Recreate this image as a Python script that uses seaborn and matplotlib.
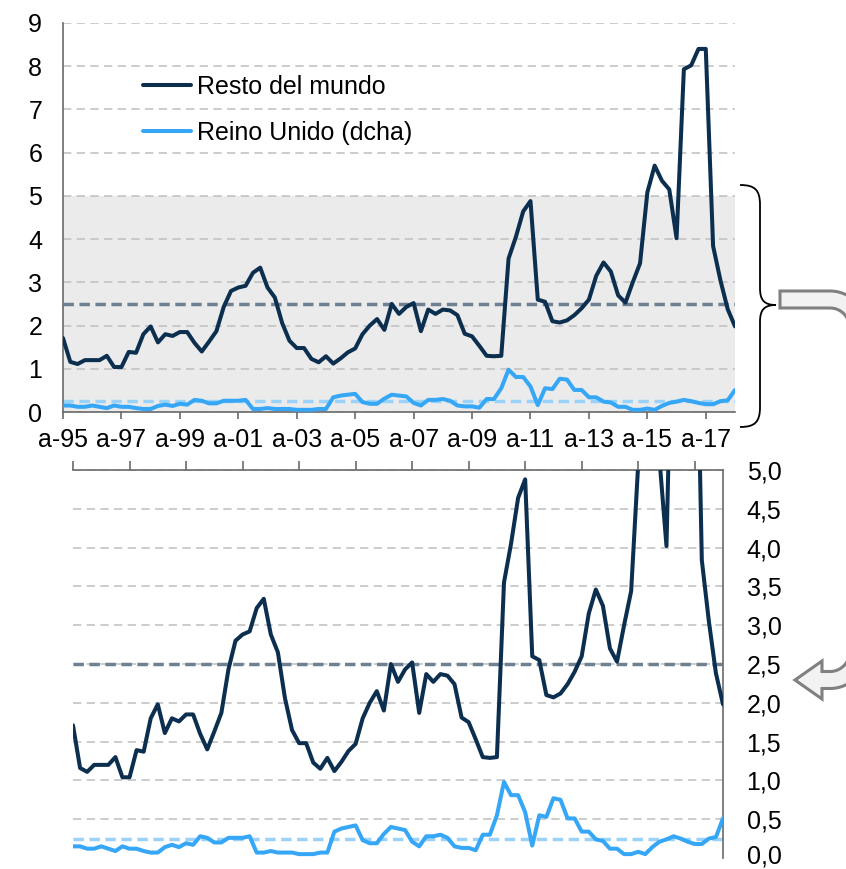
import numpy as np
import pandas as pd
import matplotlib
matplotlib.use("Agg")
import matplotlib.pyplot as plt
import matplotlib.transforms as mtransforms
import seaborn as sns
from matplotlib.path import Path
from matplotlib.patches import PathPatch, Polygon
from matplotlib.lines import Line2D
from matplotlib.ticker import FuncFormatter

# ---------------- data (quarterly, 1995 -> 2018) ----------------
resto_del_mundo = [
    1.71, 1.16, 1.11, 1.20, 1.20, 1.20, 1.30, 1.04, 1.04, 1.39,
    1.37, 1.80, 1.98, 1.61, 1.80, 1.76, 1.85, 1.85, 1.60, 1.40,
    1.63, 1.87, 2.43, 2.80, 2.88, 2.92, 3.22, 3.34, 2.88, 2.65,
    2.06, 1.65, 1.48, 1.48, 1.23, 1.15, 1.29, 1.12, 1.24, 1.38,
    1.47, 1.80, 2.00, 2.15, 1.90, 2.50, 2.27, 2.43, 2.52, 1.87,
    2.37, 2.27, 2.37, 2.35, 2.24, 1.81, 1.75, 1.53, 1.30, 1.29,
    1.30, 3.55, 4.05, 4.64, 4.88, 2.60, 2.55, 2.10, 2.07, 2.12,
    2.24, 2.40, 2.60, 3.15, 3.46, 3.25, 2.70, 2.53, 3.00, 3.44,
    5.08, 5.70, 5.35, 5.15, 4.02, 7.93, 8.02, 8.40, 8.40, 3.84,
    3.05, 2.38, 1.98,
]
reino_unido = [
    0.15, 0.15, 0.12, 0.12, 0.15, 0.12, 0.09, 0.15, 0.12, 0.12,
    0.09, 0.07, 0.07, 0.14, 0.17, 0.14, 0.19, 0.17, 0.28, 0.26,
    0.20, 0.20, 0.26, 0.26, 0.26, 0.28, 0.07, 0.07, 0.09, 0.07,
    0.07, 0.07, 0.05, 0.05, 0.05, 0.07, 0.07, 0.34, 0.38, 0.40,
    0.42, 0.23, 0.19, 0.19, 0.31, 0.40, 0.38, 0.36, 0.21, 0.15,
    0.28, 0.28, 0.30, 0.26, 0.15, 0.13, 0.13, 0.10, 0.30, 0.30,
    0.55, 0.98, 0.81, 0.81, 0.59, 0.16, 0.55, 0.53, 0.77, 0.75,
    0.51, 0.51, 0.34, 0.34, 0.24, 0.22, 0.12, 0.12, 0.05, 0.05,
    0.08, 0.05, 0.14, 0.21, 0.24, 0.28, 0.25, 0.21, 0.18, 0.18,
    0.25, 0.27, 0.51,
]
x_tick_labels = ["a-95", "a-97", "a-99", "a-01", "a-03", "a-05",
                 "a-07", "a-09", "a-11", "a-13", "a-15", "a-17"]
quarters_per_tick = 8
ref_resto = 2.5
ref_reino = 0.25
left_ticks = [0, 1, 2, 3, 4, 5, 6, 7, 8, 9]
right_ticks = [0.0, 0.5, 1.0, 1.5, 2.0, 2.5, 3.0, 3.5, 4.0, 4.5, 5.0]
shade_range = (0, 5)

name_rm = "Resto del mundo"
name_uk = "Reino Unido (dcha)"

t = np.arange(len(resto_del_mundo))
df = pd.DataFrame({"t": t, name_rm: resto_del_mundo, name_uk: reino_unido})
long = df.melt(id_vars="t", var_name="serie", value_name="valor")

# ---------------- style ----------------
sns.set_style("white")
plt.rcParams["font.family"] = ["Liberation Sans", "DejaVu Sans"]
plt.rcParams["text.color"] = "black"

C_DARK = "#0C2F4F"
C_LIGHT = "#36A6F6"
C_REF_DARK = "#6E8092"
C_REF_LIGHT = "#9AD2FA"
C_GRID = "#C3C3C3"
C_SPINE = "#6A6A6A"
FS = 18
LW = 2.9

W, H = 846, 869
fig = plt.figure(figsize=(W / 100, H / 100), dpi=100)


def fx(px):
    return px / W


def fy(py):
    return 1 - py / H


ax1 = fig.add_axes([fx(63), fy(412), fx(735) - fx(63), fy(23) - fy(412)])
ax2 = fig.add_axes([fx(73), fy(858), fx(723) - fx(73), fy(470) - fy(858)])

palette = {name_rm: C_DARK, name_uk: C_LIGHT}
xt = list(range(0, quarters_per_tick * len(x_tick_labels), quarters_per_tick))

for ax in (ax1, ax2):
    sns.lineplot(data=long, x="t", y="valor", hue="serie", palette=palette,
                 linewidth=LW, ax=ax, legend=False, zorder=3)
    ax.axhline(ref_resto, color=C_REF_DARK, lw=2.5, ls=(0, (3.0, 1.6)), zorder=2)
    ax.axhline(ref_reino, color=C_REF_LIGHT, lw=2.5, ls=(0, (3.0, 1.6)), zorder=2)
    ax.set_xlim(0, len(resto_del_mundo) - 1)
    ax.set_xlabel("")
    ax.set_ylabel("")
    ax.set_axisbelow(True)
    ax.grid(axis="y", color=C_GRID, lw=1.2, ls=(0, (5, 3.2)))
    ax.grid(axis="x", visible=False)
    ax.set_xticks(xt)

# ---- top panel ----
ax1.set_ylim(0, 9)
ax1.set_yticks(left_ticks)
ax1.axhspan(shade_range[0], shade_range[1], color="#EBEBEB", lw=0, zorder=0.1)
ax1.set_xticklabels(x_tick_labels)
for s in ("top", "right"):
    ax1.spines[s].set_visible(False)
for s in ("left", "bottom"):
    ax1.spines[s].set_color(C_SPINE)
    ax1.spines[s].set_linewidth(1.2)
ax1.tick_params(axis="x", direction="out", length=5, width=1.2, color=C_SPINE,
                labelsize=FS, labelcolor="black", pad=6.5, bottom=True)
ax1.tick_params(axis="y", length=0, labelsize=FS, labelcolor="black", pad=15, left=True)

handles = [Line2D([], [], color=C_DARK, lw=LW), Line2D([], [], color=C_LIGHT, lw=LW)]
ax1.legend(handles, [name_rm, name_uk], loc="upper left",
           bbox_to_anchor=(fx(143), fy(75)), bbox_transform=fig.transFigure,
           frameon=False, fontsize=FS, handlelength=1.9, handletextpad=0.25,
           labelspacing=0.88, borderpad=0, borderaxespad=0, labelcolor="black")

# ---- bottom panel ----
ax2.set_ylim(0, 5)
ax2.set_yticks(right_ticks)
ax2.yaxis.tick_right()
ax2.xaxis.tick_top()
ax2.yaxis.set_major_formatter(FuncFormatter(lambda v, p: f"{v:.1f}".replace(".", ",")))
for s in ("left", "bottom"):
    ax2.spines[s].set_visible(False)
for s in ("top", "right"):
    ax2.spines[s].set_color(C_SPINE)
    ax2.spines[s].set_linewidth(1.2)
ax2.tick_params(axis="x", direction="out", length=6.5, width=1.2, color=C_SPINE,
                top=True, bottom=False, labeltop=False, labelbottom=False)
ax2.tick_params(axis="y", length=0, labelsize=FS, labelcolor="black", pad=17,
                right=True, left=False, labelright=True, labelleft=False)
ax2.yaxis.get_gridlines()[0].set_visible(False)
fig.canvas.draw()
lift = mtransforms.ScaledTranslation(0, 4 / 100, fig.dpi_scale_trans)
lowest = ax2.yaxis.get_majorticklabels()[0]
lowest.set_transform(lowest.get_transform() + lift)

# ---------------- brace and curved arrow (figure pixel coords) ----------------
def P(x, y):
    return (fx(x), fy(y))


brace_verts = [
    P(740, 185), P(755, 185), P(760, 190), P(760, 205),
    P(760, 288),
    P(760, 300), P(764, 305), P(776, 305),
    P(764, 305), P(760, 310), P(760, 322),
    P(760, 407),
    P(760, 422), P(755, 427), P(740, 427),
]
brace_codes = [Path.MOVETO, Path.CURVE4, Path.CURVE4, Path.CURVE4,
               Path.LINETO,
               Path.CURVE4, Path.CURVE4, Path.CURVE4,
               Path.CURVE4, Path.CURVE4, Path.CURVE4,
               Path.LINETO,
               Path.CURVE4, Path.CURVE4, Path.CURVE4]
fig.add_artist(PathPatch(Path(brace_verts, brace_codes), fill=False,
                         edgecolor="black", lw=1.3, transform=fig.transFigure))


def arc(cx, cy, r, a0, a1, n=24):
    a = np.radians(np.linspace(a0, a1, n))
    return [(cx + r * np.cos(v), cy + r * np.sin(v)) for v in a]


hw, R = 8.5, 28
c1 = (830, 327.5)
c2 = (830, 652)
pts = [(780, 299.5 - hw)]
pts += arc(c1[0], c1[1], R + hw, -90, 0)
pts += arc(c2[0], c2[1], R + hw, 0, 90)
pts += [(822, 680 + hw), (822, 699), (795, 680), (822, 661), (822, 680 - hw)]
pts += arc(c2[0], c2[1], R - hw, 90, 0)
pts += arc(c1[0], c1[1], R - hw, 0, -90)
pts += [(780, 299.5 + hw)]
arrow = Polygon([P(x, y) for x, y in pts], closed=True, facecolor="#F2F2F2",
                edgecolor="#808080", lw=2.2, joinstyle="miter",
                transform=fig.transFigure)
fig.add_artist(arrow)

fig.savefig("out.png", dpi=100)
